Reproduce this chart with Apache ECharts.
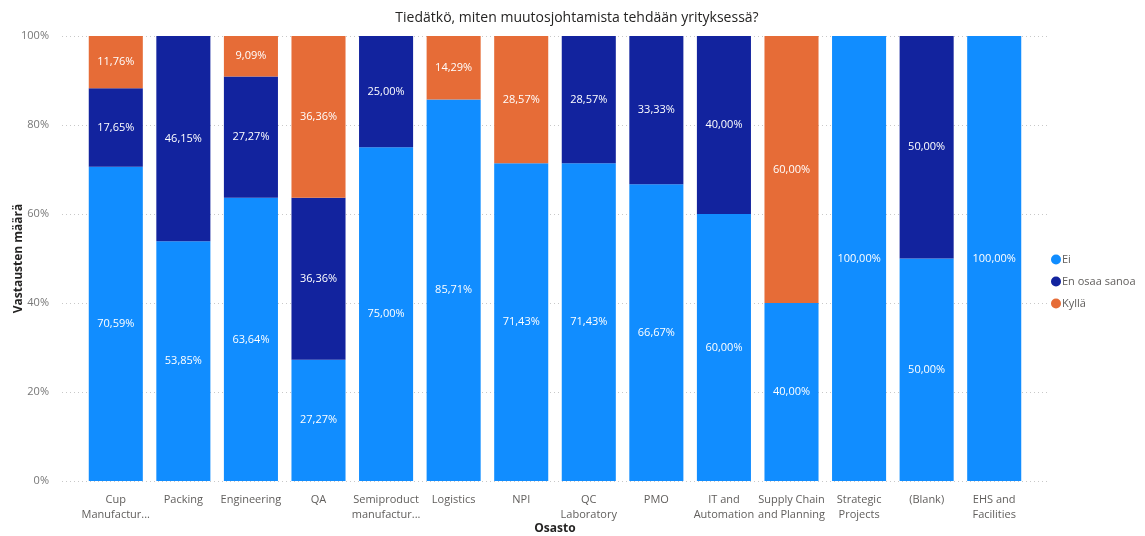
<!DOCTYPE html>
<html><head><meta charset="utf-8">
<script src="https://cdn.jsdelivr.net/npm/echarts@6/dist/echarts.min.js"></script>
<style>html,body{margin:0;padding:0;background:#fff}#c{width:1145px;height:536px}</style>
</head><body><div id="c"></div>
<script>
const categories = ["Cup\nManufactur...","Packing","Engineering","QA","Semiproduct\nmanufactur...","Logistics","NPI","QC\nLaboratory","PMO","IT and\nAutomation","Supply Chain\nand Planning","Strategic\nProjects","(Blank)","EHS and\nFacilities"];
const ei =    [70.59,53.85,63.64,27.27,75.00,85.71,71.43,71.43,66.67,60.00,40.00,100,50.00,100];
const enOsaa =[17.65,46.15,27.27,36.36,25.00,null,null,28.57,33.33,40.00,null,null,50.00,null];
const kylla = [11.76,null,9.09,36.36,null,14.29,28.57,null,null,null,60.00,null,null,null];
const yTicks = [0,20,40,60,80,100];

const FONT = '"Segoe UI","Open Sans",sans-serif';
const chart = echarts.init(document.getElementById('c'));
const lbl = {show:true, position:'inside', color:'#fff', fontSize:11, fontFamily:FONT,
  formatter:p=> p.value==null?'':p.value.toFixed(2).replace('.',',')+'%'};
function ser(name,data,color){return {name,type:'bar',stack:'s',data,xAxisIndex:1,yAxisIndex:1,barCategoryGap:'20%',
  itemStyle:{color},label:lbl,emphasis:{disabled:true}};}
chart.setOption({
  animation:false,
  title:{text:'Tiedätkö, miten muutosjohtamista tehdään yrityksessä?',left:572,textAlign:'center',top:6,
    textStyle:{fontSize:14,fontWeight:'normal',color:'#252423',fontFamily:FONT}},
  legend:{orient:'vertical',left:1046,top:249,itemGap:11,icon:'circle',itemWidth:10,itemHeight:10,
    textStyle:{color:'#605E5C',fontSize:11,fontFamily:FONT,padding:[0,0,0,-4]},
    data:['Ei','En osaa sanoa','Kyllä']},
  grid:[{left:62,right:97,top:36,bottom:55,outerBoundsMode:'none'},{left:82,right:117,top:36,bottom:55,outerBoundsMode:'none'}],
  xAxis:[{type:'category',gridIndex:0,data:['a'],show:false},
    {type:'category',gridIndex:1,data:categories,axisLine:{show:false},axisTick:{show:false},
     axisLabel:{color:'#605E5C',fontSize:11,fontFamily:FONT,margin:11,lineHeight:15,interval:0},
     name:'Osasto',nameLocation:'middle',nameGap:42,nameMoveOverlap:false,
     nameTextStyle:{color:'#252423',fontSize:12,fontWeight:'bold',fontFamily:FONT}}],
  yAxis:[{type:'value',gridIndex:0,min:0,max:100,interval:20,
     axisLabel:{formatter:v=>v+'%',color:'#777',fontSize:11,fontFamily:FONT,margin:13},
     splitLine:{lineStyle:{type:[1,3],color:'#C8C8C8'}},axisLine:{show:false},axisTick:{show:false},
     name:'Vastausten määrä',nameLocation:'middle',nameGap:37,nameMoveOverlap:false,
     nameTextStyle:{color:'#252423',fontSize:12,fontWeight:'bold',fontFamily:FONT}},
    {type:'value',gridIndex:1,min:0,max:100,show:false}],
  series:[ser('Ei',ei,'#118DFF'),ser('En osaa sanoa',enOsaa,'#12239E'),ser('Kyllä',kylla,'#E66C37')]
});
</script></body></html>
